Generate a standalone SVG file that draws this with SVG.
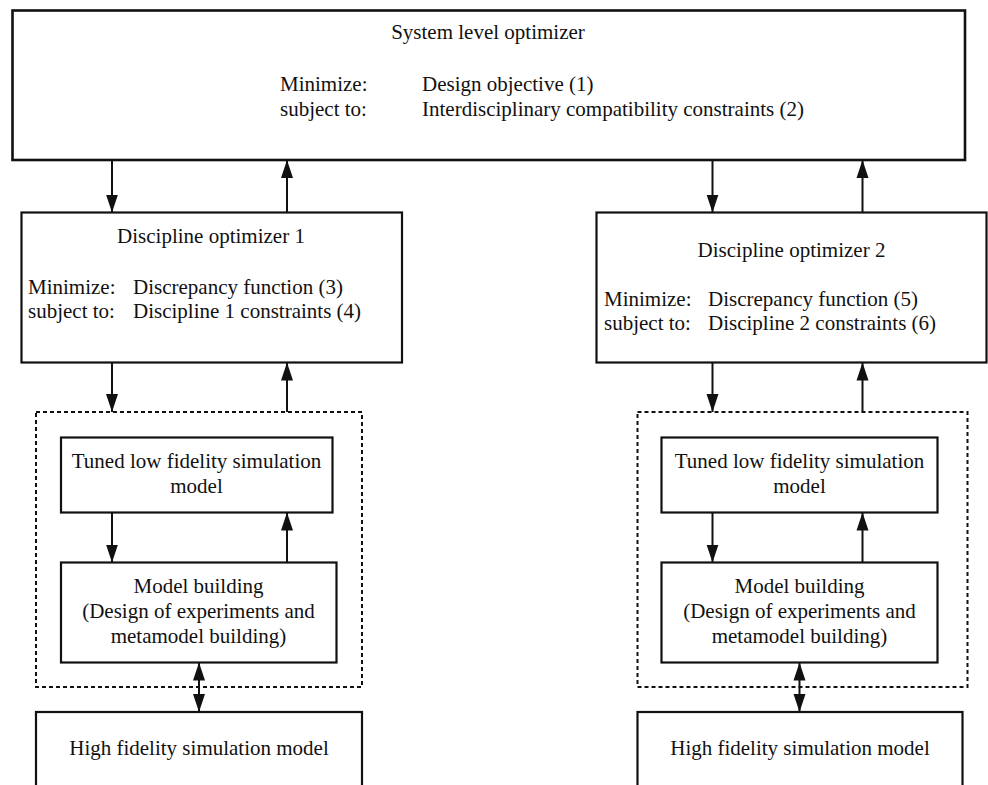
<svg xmlns="http://www.w3.org/2000/svg" width="988" height="785" viewBox="0 0 988 785">
  <style>
    text { font-family: "Liberation Serif", "Times New Roman", serif; font-size: 21px; fill: #111; }
    .c { text-anchor: middle; }
    .box { fill: #fff; stroke: #111; stroke-width: 2.2; }
    .dash { fill: none; stroke: #111; stroke-width: 2; stroke-dasharray: 4 3; }
    .conn line { stroke: #111; stroke-width: 2; }
  </style>
  <defs>
    <marker id="ah" markerUnits="userSpaceOnUse" markerWidth="20" markerHeight="14" refX="18" refY="6.5" orient="auto-start-reverse">
      <path d="M0,0.5 L18,6.5 L0,12.5 z" fill="#111"/>
    </marker>
  </defs>
  <rect width="988" height="785" fill="#fff"/>

  <g id="system">
    <rect class="box" x="12.5" y="10.5" width="952.5" height="149.5" style="stroke-width:2.6"/>
    <text class="c" x="488" y="39">System level optimizer</text>
    <text x="280" y="91">Minimize:</text>
    <text x="422" y="91">Design objective (1)</text>
    <text x="280" y="115.5">subject to:</text>
    <text x="422" y="115.5">Interdisciplinary compatibility constraints (2)</text>
  </g>

  <g id="disc1">
    <rect class="box" x="21.5" y="212.5" width="380.5" height="150"/>
    <text class="c" x="211" y="243">Discipline optimizer 1</text>
    <text x="28" y="294">Minimize:</text>
    <text x="133" y="294">Discrepancy function (3)</text>
    <text x="28" y="318">subject to:</text>
    <text x="133" y="318">Discipline 1 constraints (4)</text>
  </g>

  <g id="disc2">
    <rect class="box" x="596.5" y="212.5" width="390" height="150"/>
    <text class="c" x="791.5" y="256.5">Discipline optimizer 2</text>
    <text x="604" y="306">Minimize:</text>
    <text x="708" y="306">Discrepancy function (5)</text>
    <text x="604" y="330">subject to:</text>
    <text x="708" y="330">Discipline 2 constraints (6)</text>
  </g>

  <g id="group1">
    <rect class="dash" x="36" y="412" width="326" height="275"/>
  </g>
  <g id="group2">
    <rect class="dash" x="637.5" y="412" width="330" height="275"/>
  </g>

  <g id="tuned1">
    <rect class="box" x="61" y="437.5" width="271.5" height="75"/>
    <text class="c" x="196.5" y="468">Tuned low fidelity simulation</text>
    <text class="c" x="196.5" y="492.5">model</text>
  </g>
  <g id="tuned2">
    <rect class="box" x="661.5" y="437.5" width="276" height="75"/>
    <text class="c" x="799.5" y="468">Tuned low fidelity simulation</text>
    <text class="c" x="799.5" y="492.5">model</text>
  </g>

  <g id="model1">
    <rect class="box" x="61" y="562.5" width="275.5" height="100"/>
    <text class="c" x="198.5" y="592.5">Model building</text>
    <text class="c" x="198.5" y="618">(Design of experiments and</text>
    <text class="c" x="198.5" y="642.5">metamodel building)</text>
  </g>
  <g id="model2">
    <rect class="box" x="661.5" y="562.5" width="276" height="100"/>
    <text class="c" x="799.5" y="592.5">Model building</text>
    <text class="c" x="799.5" y="618">(Design of experiments and</text>
    <text class="c" x="799.5" y="642.5">metamodel building)</text>
  </g>

  <g id="high1">
    <rect class="box" x="36" y="712" width="326" height="100"/>
    <text class="c" x="199" y="755">High fidelity simulation model</text>
  </g>
  <g id="high2">
    <rect class="box" x="637.5" y="712" width="325" height="100"/>
    <text class="c" x="800" y="755">High fidelity simulation model</text>
  </g>

  <g id="connectors" class="conn">
    <line x1="112" y1="160" x2="112" y2="212.5" marker-end="url(#ah)"/>
    <line x1="287" y1="212.5" x2="287" y2="160" marker-end="url(#ah)"/>
    <line x1="712.5" y1="160" x2="712.5" y2="212.5" marker-end="url(#ah)"/>
    <line x1="862.5" y1="212.5" x2="862.5" y2="160" marker-end="url(#ah)"/>

    <line x1="112" y1="362.5" x2="112" y2="412" marker-end="url(#ah)"/>
    <line x1="287" y1="412" x2="287" y2="362.5" marker-end="url(#ah)"/>
    <line x1="712.5" y1="362.5" x2="712.5" y2="412" marker-end="url(#ah)"/>
    <line x1="862.5" y1="412" x2="862.5" y2="362.5" marker-end="url(#ah)"/>

    <line x1="112" y1="512.5" x2="112" y2="562.5" marker-end="url(#ah)"/>
    <line x1="287" y1="562.5" x2="287" y2="512.5" marker-end="url(#ah)"/>
    <line x1="712.5" y1="512.5" x2="712.5" y2="562.5" marker-end="url(#ah)"/>
    <line x1="862.5" y1="562.5" x2="862.5" y2="512.5" marker-end="url(#ah)"/>

    <line x1="199" y1="662.5" x2="199" y2="712" marker-start="url(#ah)" marker-end="url(#ah)"/>
    <line x1="799.5" y1="662.5" x2="799.5" y2="712" marker-start="url(#ah)" marker-end="url(#ah)"/>
  </g>
</svg>
